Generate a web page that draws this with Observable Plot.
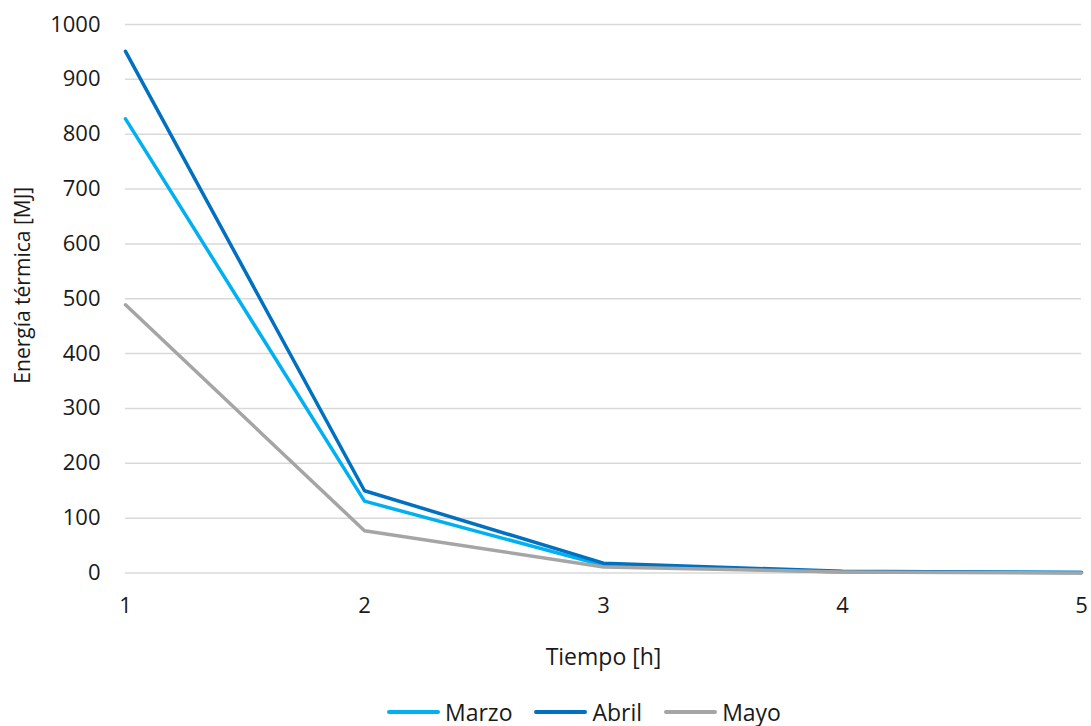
<!DOCTYPE html>
<html>
<head>
<meta charset="utf-8">
<script src="https://cdn.jsdelivr.net/npm/d3@7"></script>
<script src="https://cdn.jsdelivr.net/npm/@observablehq/plot@0.6"></script>
<style>
  html, body { margin: 0; padding: 0; background: #fff; overflow: hidden; }
  #chart svg { display: block; }
  #legend { height: 28px; line-height: 28px; padding-top: 12px; display: flex; align-items: center; padding-left: 387px;
            font-family: "Open Sans", sans-serif; font-size: 23px; color: #1a1a1a; }
  .item { display: flex; align-items: center; margin-right: 22px; height: 28px; }
  .sw { width: 53px; height: 3.5px; margin-right: 5px; border-radius: 2px; }
</style>
</head>
<body>
<div id="chart"></div>
<div id="legend"></div>
<script>
const hours = [1, 2, 3, 4, 5];
const series = ["Marzo", "Abril", "Mayo"];
const colors = ["#00B0F0", "#0070C0", "#A5A5A5"];
const marzo = [828, 131, 14, 2, 1];
const abril = [951, 150, 18, 3, 1];
const mayo = [489, 77, 11, 2, 0];
const yTicks = [0, 100, 200, 300, 400, 500, 600, 700, 800, 900, 1000];
const xLabel = "Tiempo [h]";
const yLabel = "Energía térmica [MJ]";

const valuesBySeries = [marzo, abril, mayo];
const data = [];
series.forEach((s, i) => hours.forEach((h, j) => data.push({serie: s, h, v: valuesBySeries[i][j]})));

const font = '"Open Sans", sans-serif';
const chart = Plot.plot({
  width: 1091,
  height: 686,
  marginLeft: 125,
  marginRight: 10,
  marginTop: 24,
  marginBottom: 113.5,
  style: {fontFamily: font, fontSize: "22px", color: "#1a1a1a", background: "#fff"},
  x: {domain: [1, 5]},
  y: {domain: [0, 1000]},
  color: {domain: series, range: colors},
  marks: [
    Plot.gridY(yTicks, {stroke: "#d9d9d9", strokeOpacity: 1, strokeWidth: 1.5}),
    Plot.axisY(yTicks, {tickSize: 0, tickPadding: 25, label: null, fontSize: 22, tickFormat: d => String(d)}),
    Plot.axisX(hours, {tickSize: 0, tickPadding: 24, label: null, fontSize: 22, tickFormat: d => String(d)}),
    Plot.lineY(data, {x: "h", y: "v", z: "serie", stroke: "serie", strokeWidth: 3.5, strokeLinejoin: "round", strokeLinecap: "round"}),
    Plot.text([xLabel], {frameAnchor: "bottom", dy: 84.5, lineAnchor: "middle", fontSize: 23, fill: "#1a1a1a", text: d => d}),
    Plot.text([yLabel], {frameAnchor: "left", dx: -102, dy: -13.5, rotate: -90, lineAnchor: "middle", textAnchor: "middle", fontSize: 21, fill: "#1a1a1a", text: d => d})
  ]
});
document.getElementById("chart").appendChild(chart);

const legend = document.getElementById("legend");
series.forEach((s, i) => {
  const it = document.createElement("div");
  it.className = "item";
  const sw = document.createElement("span");
  sw.className = "sw";
  sw.style.background = colors[i];
  const t = document.createElement("span");
  t.textContent = s;
  it.appendChild(sw);
  it.appendChild(t);
  legend.appendChild(it);
});
</script>
</body>
</html>
